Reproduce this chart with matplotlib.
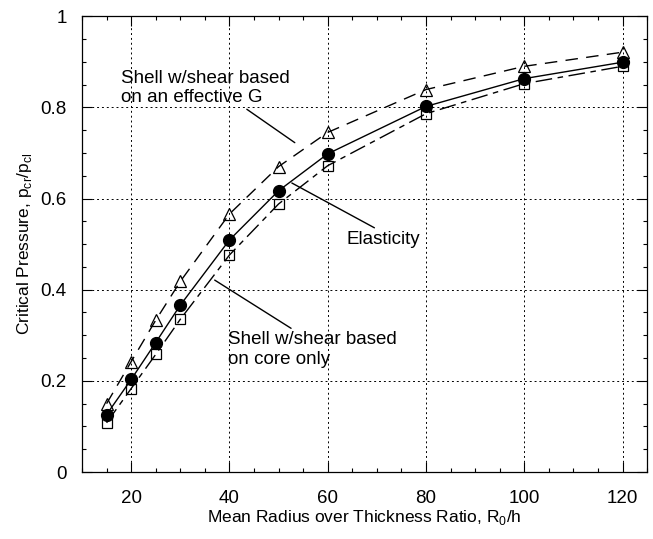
import matplotlib
matplotlib.use("Agg")
import matplotlib.pyplot as plt
from matplotlib.ticker import MultipleLocator

plt.rcParams['font.family'] = ['Liberation Sans', 'DejaVu Sans']

# R0/h values
ratio = [15, 20, 25, 30, 40, 50, 60, 80, 100, 120]

# critical pressure ratio pcr/pcl
elasticity = [0.126, 0.203, 0.284, 0.366, 0.509, 0.617, 0.698, 0.802, 0.863, 0.899]
shell_eff_G = [0.150, 0.242, 0.333, 0.418, 0.566, 0.670, 0.745, 0.839, 0.890, 0.921]
shell_core = [0.108, 0.183, 0.258, 0.335, 0.476, 0.588, 0.672, 0.786, 0.852, 0.890]

xticks = [20, 40, 60, 80, 100, 120]
yticks = [0, 0.2, 0.4, 0.6, 0.8, 1.0]
ytick_labels = ['0', '0.2', '0.4', '0.6', '0.8', '1']

fig = plt.figure(figsize=(6.53, 5.39), dpi=100)
ax = fig.add_axes([0.1256, 0.1243, 0.8654, 0.8457])

# curves
ax.plot(ratio, shell_eff_G, color='black', lw=1.0, ls=(0, (9, 6)))
ax.plot(ratio, elasticity, color='black', lw=1.0, ls='-')
ax.plot(ratio, shell_core, color='black', lw=1.0, ls=(0, (12, 4, 4, 4)))

# symbols
ax.plot(ratio, shell_eff_G, ls='none', marker='^', ms=8, mfc='none', mec='black', mew=0.9)
ax.plot(ratio, shell_core, ls='none', marker='s', ms=7.5, mfc='none', mec='black', mew=0.9)
ax.plot(ratio, elasticity, ls='none', marker='o', ms=8.5, mfc='black', mec='black')

ax.set_xlim(10, 125)
ax.set_ylim(0, 1)
ax.set_xticks(xticks)
ax.set_yticks(yticks)
ax.set_yticklabels(ytick_labels)
ax.xaxis.set_minor_locator(MultipleLocator(5))
ax.yaxis.set_minor_locator(MultipleLocator(0.05))
ax.tick_params(which='both', direction='in', top=True, right=True, labelsize=13.5)
ax.tick_params(which='major', length=7, width=0.8)
ax.tick_params(which='minor', length=3, width=0.8)
ax.tick_params(axis='x', pad=13)
ax.tick_params(axis='y', pad=11)

ax.grid(True, which='major', color='black', lw=0.7, ls=(0, (2, 3)))
for s in ax.spines.values():
    s.set_linewidth(0.9)

ax.set_xlabel('Mean Radius over Thickness Ratio, R$_\\mathregular{0}$/h', fontsize=12.5, labelpad=1)
ax.set_ylabel('Critical Pressure, p$_\\mathregular{cr}$/p$_\\mathregular{cl}$', fontsize=12.5, labelpad=5)

# labels with leader lines
ax.annotate('Shell w/shear based\non an effective G', xy=(53.3, 0.7225), xytext=(18.0, 0.842),
            ha='left', va='center', fontsize=13.5,
            arrowprops=dict(arrowstyle='-', color='black', lw=1.0, shrinkA=0, shrinkB=0,
                            relpos=(0.72, 0.0)))
ax.annotate('Elasticity', xy=(52.7, 0.634), xytext=(63.8, 0.511),
            ha='left', va='center', fontsize=13.5,
            arrowprops=dict(arrowstyle='-', color='black', lw=1.0, shrinkA=0, shrinkB=0,
                            relpos=(0.45, 1.0)))
ax.annotate('Shell w/shear based\non core only', xy=(37.0, 0.421), xytext=(39.7, 0.269),
            ha='left', va='center', fontsize=13.5,
            arrowprops=dict(arrowstyle='-', color='black', lw=1.0, shrinkA=0, shrinkB=0,
                            relpos=(0.4, 1.0)))

fig.savefig('out.png', dpi=100)
